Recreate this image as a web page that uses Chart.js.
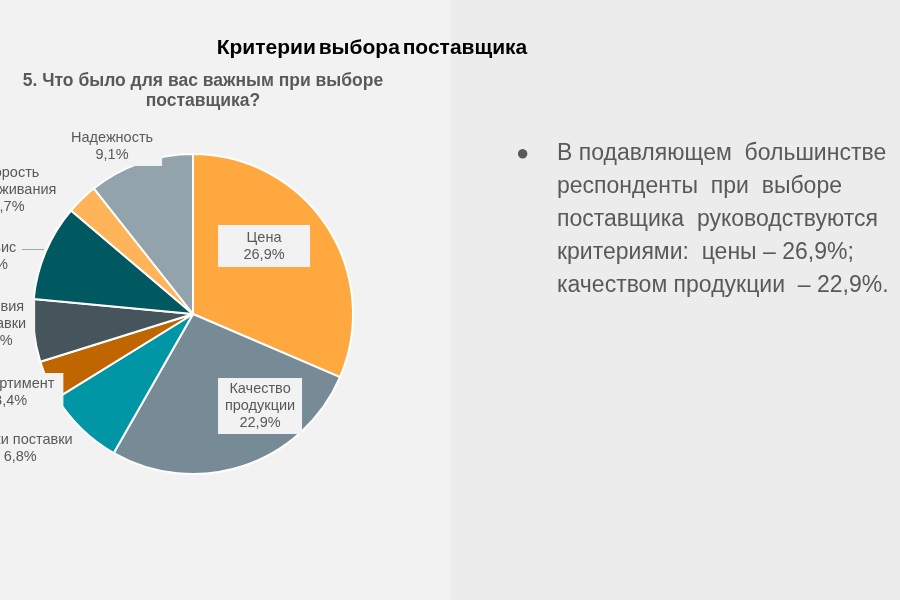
<!DOCTYPE html>
<html lang="ru">
<head>
<meta charset="utf-8">
<title>Критерии выбора поставщика</title>
<script src="https://cdn.jsdelivr.net/npm/chart.js@4.4.1/dist/chart.umd.min.js"></script>
<style>
  html, body { margin: 0; padding: 0; }
  body {
    width: 900px; height: 600px; overflow: hidden; position: relative;
    background: linear-gradient(to right, #f2f2f2 0, #f2f2f2 451px, #ececec 451px, #ececec 100%);
    font-family: "Liberation Sans", Arial, sans-serif;
  }
  #pie { position: absolute; left: 0; top: 0; }
  .title {
    position: absolute; left: 122px; width: 500px; top: 36px;
    text-align: center; font-size: 21px; line-height: 21px; font-weight: bold; color: #000;
    word-spacing: -3px;
  }
  .subtitle {
    position: absolute; left: -47px; width: 500px; top: 70px;
    text-align: center; font-size: 17.5px; line-height: 20px; font-weight: bold; color: #595959;
  }
  .note {
    position: absolute; left: 557px; top: 136px; width: 345px;
    font-size: 23px; line-height: 33px; color: #595959; white-space: pre;
  }
  .bullet {
    position: absolute; left: 516px; top: 136px;
    font-size: 22px; line-height: 33px; color: #595959;
  }
</style>
</head>
<body>
<canvas id="pie" width="900" height="600"></canvas>
<div class="title">Критерии выбора поставщика</div>
<div class="subtitle">5. Что было для вас важным при выборе<br>поставщика?</div>
<div class="bullet">●</div>
<div class="note">В подавляющем  большинстве
респонденты  при  выборе
поставщика  руководствуются
критериями:  цены – 26,9%;
качеством продукции  – 22,9%.</div>

<script>
const categories = [
  'Цена',
  'Качество продукции',
  'Сроки поставки',
  'Ассортимент',
  'Условия поставки',
  'Сервис',
  'Скорость обслуживания',
  'Надежность'
];
const labelLines = [
  ['Цена'],
  ['Качество', 'продукции'],
  ['Сроки поставки'],
  ['Ассортимент'],
  ['Условия', 'поставки'],
  ['Сервис'],
  ['Скорость', 'обслуживания'],
  ['Надежность']
];
const shares = [26.9, 22.9, 6.8, 3.4, 5.4, 8.3, 2.7, 9.1];
const sliceColors = ['#FFA83F', '#778B97', '#0096A6', '#BF6600', '#46545C', '#005861', '#FFB45A', '#93A3AC'];

// label placement, as fractions of the pie radius from its centre
const labelLayout = [
  { fx: 0.444, fy: -0.425, w: 92, h: 42 },
  { fx: 0.419, fy: 0.575, w: 84, h: 56 },
  { fx: -1.08, fy: 0.8375 },
  { fx: -1.14, fy: 0.4875 },
  { fx: -1.23, fy: 0.0625 },
  { fx: -1.26, fy: -0.3625, leader: [-1.069, -0.931, -0.406] },
  { fx: -1.156, fy: -0.775 },
  { fx: -0.506, fy: -1.044 }
];

const pct = (v) => v.toFixed(1).replace('.', ',') + '%';

const pieLabels = {
  id: 'pieLabels',
  afterDatasetsDraw(chart) {
    const ctx = chart.ctx;
    const arcs = chart.getDatasetMeta(0).data;
    const cx = arcs[0].x, cy = arcs[0].y, r = arcs[0].outerRadius;
    const lineH = 17;
    ctx.save();
    ctx.font = '14.5px "Liberation Sans", Arial, sans-serif';
    ctx.textAlign = 'center';
    ctx.textBaseline = 'middle';
    labelLayout.forEach((spec, i) => {
      const lines = labelLines[i].concat(pct(shares[i]));
      const x = cx + r * spec.fx;
      const y = cy + r * spec.fy;
      const textW = Math.max(...lines.map(t => ctx.measureText(t).width));
      const w = spec.w || textW + 18;
      const h = spec.h || lines.length * lineH + 4;
      ctx.fillStyle = '#f2f2f2';
      ctx.fillRect(x - w / 2, y - h / 2, w, h);
      if (spec.leader) {
        const [a, b, ly] = spec.leader;
        ctx.strokeStyle = '#a6a6a6';
        ctx.lineWidth = 1;
        ctx.beginPath();
        ctx.moveTo(cx + r * a, Math.round(cy + r * ly) + 0.5);
        ctx.lineTo(cx + r * b, Math.round(cy + r * ly) + 0.5);
        ctx.stroke();
      }
      ctx.fillStyle = '#595959';
      const top = y - (lines.length - 1) * lineH / 2;
      lines.forEach((t, k) => ctx.fillText(t, x, top + k * lineH));
    });
    ctx.restore();
  }
};

new Chart(document.getElementById('pie'), {
  type: 'pie',
  data: {
    labels: categories,
    datasets: [{
      data: shares,
      backgroundColor: sliceColors,
      borderColor: '#ffffff',
      borderWidth: 2
    }]
  },
  options: {
    responsive: false,
    animation: false,
    layout: { padding: { left: 32, top: 153, right: 546, bottom: 125 } },
    plugins: {
      legend: { display: false },
      tooltip: { enabled: false }
    }
  },
  plugins: [pieLabels]
});
</script>
</body>
</html>
